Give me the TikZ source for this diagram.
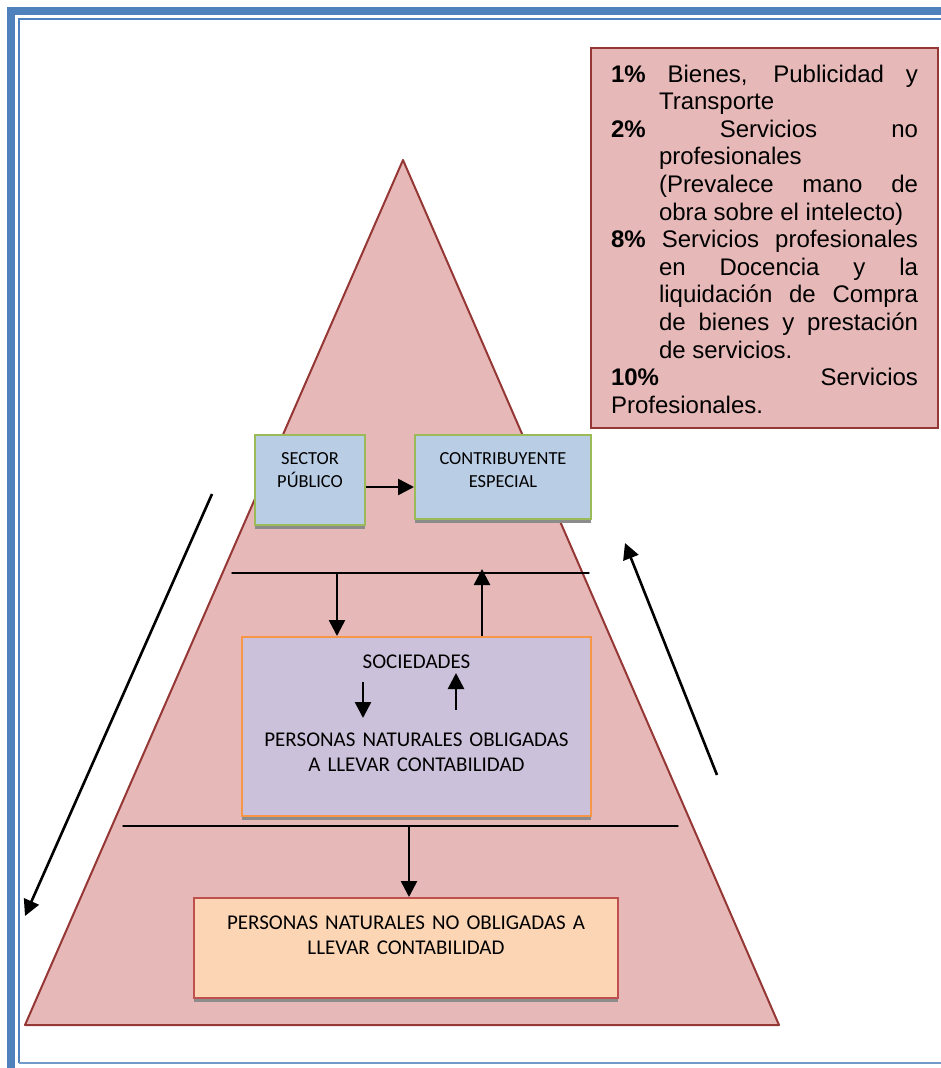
\documentclass[tikz,border=0pt]{standalone}
\usepackage[usenames,dvipsnames]{xcolor}
\usepackage{tkz-euclide}
\usepackage{amsmath}
\usepackage{fontspec}
\usetikzlibrary{arrows.meta,shadows}
\newfontfamily\boxfont{Carlito}
\newfontfamily\notefont{Liberation Sans}
\definecolor{pageblue}{HTML}{4F81BD}
\definecolor{pyrfill}{HTML}{E6B9B8}
\definecolor{pyrline}{HTML}{953735}
\definecolor{boxblue}{HTML}{B9CDE5}
\definecolor{boxgreen}{HTML}{9BBB59}
\definecolor{boxlila}{HTML}{CCC1DA}
\definecolor{boxorange}{HTML}{F79646}
\definecolor{boxpeach}{HTML}{FCD5B5}
\definecolor{boxred}{HTML}{C0504D}

\begin{document}
\begin{tikzpicture}[x=1pt,y=-1pt,
  caja/.style={draw,line width=2pt,anchor=north west,inner xsep=4pt,inner ysep=0pt,align=center,
    drop shadow={shadow xshift=0pt,shadow yshift=-4pt,fill=black!45,opacity=1}},
  flecha/.style={line width=2.6pt,-{Triangle[length=16pt,width=16pt]}}]
\useasboundingbox (0,0) rectangle (941,1068);
\draw[pageblue,line width=8pt] (11,1080) -- (11,11) -- (950,11);
\draw[pageblue,line width=2.5pt] (19,1063) -- (19,19) -- (950,19);
\draw[pageblue!80,line width=2pt] (19,1063) -- (950,1063);
\tkzDefPoint(403,160){TT}\tkzDefPoint(25,1025){BL}\tkzDefPoint(779,1025){BR}
\tkzFillPolygon[color=pyrfill](TT,BL,BR)
\tkzDrawPolygon[color=pyrline,line width=2pt](TT,BL,BR)
\node[draw=pyrline,fill=pyrfill,line width=2pt,anchor=north west,text width=307pt,
  inner xsep=20pt,inner ysep=0pt,text height=34pt,text depth=346pt,align=justify,
  font=\notefont\fontsize{24}{27.6}\selectfont] (tasas) at (590,47)
  {\tolerance=10000\hbadness=10000
   \hangindent=48pt\hangafter=1 \textbf{1\%} Bienes, Publicidad y\linebreak Transporte\par
   \hangindent=48pt\hangafter=1 \textbf{2\%} Servicios no\linebreak profesionales\linebreak
   (Prevalece mano de\linebreak obra sobre el intelecto)\par
   \hangindent=48pt\hangafter=1 \textbf{8\%} Servicios profesionales\linebreak en Docencia y la\linebreak
   liquidación de Compra\linebreak de bienes y prestación\linebreak de servicios.\par
   \textbf{10\%} Servicios\linebreak Profesionales.};
\node[caja,draw=boxgreen,fill=boxblue,text width=102pt,text height=29pt,text depth=61pt,
  font=\boxfont\fontsize{18.4}{23}\selectfont] (sector) at (254,434) {SECTOR\\PÚBLICO};
\node[caja,draw=boxgreen,fill=boxblue,text width=168pt,text height=29pt,text depth=55pt,
  font=\boxfont\fontsize{18.4}{23}\selectfont] (contrib) at (414,434) {CONTRIBUYENTE\\ESPECIAL};
\node[caja,draw=boxorange,fill=boxlila,text width=341pt,text height=31pt,text depth=148pt,
  font=\boxfont\fontsize{21}{25}\selectfont] (soc) at (241,636)
  {SOCIEDADES\\[53pt]PERSONAS NATURALES OBLIGADAS\\A LLEVAR CONTABILIDAD};
\node[caja,draw=boxred,fill=boxpeach,text width=416pt,text height=31pt,text depth=69pt,
  font=\boxfont\fontsize{21}{25}\selectfont] (noobl) at (193,897)
  {PERSONAS NATURALES NO OBLIGADAS A\\LLEVAR CONTABILIDAD};
\tkzDefPoint(232,573){L1a}\tkzDefPoint(589,573){L1b}
\tkzDefPoint(123,826){L2a}\tkzDefPoint(678,826){L2b}
\tkzDrawSegments[color=black,line width=1.4pt](L1a,L1b L2a,L2b)
\tkzDefPoint(337,573){D1}\tkzDefPoint(482,569){U1}\tkzDefPoint(409,826){D2}
\tkzDefPoint(363,682){SA}\tkzDefPoint(363,718){SB}
\tkzDefPoint(456,710){SC}\tkzDefPoint(456,673){SD}
\tkzDefPoint(212,494){LA}\tkzDefPoint(25,916){LB}
\tkzDefPoint(717,775){RA}\tkzDefPoint(625,543){RB}
\draw[flecha] ([yshift=-7pt]sector.east) -- ([yshift=-7pt]sector.east -| contrib.west);
\draw[flecha] (D1) -- (D1 |- soc.north);
\draw[flecha] (U1 |- soc.north) -- (U1);
\draw[flecha] (SA) -- (SB);
\draw[flecha] (SC) -- (SD);
\draw[flecha] (D2) -- (D2 |- noobl.north);
\draw[flecha] (LA) -- (LB);
\draw[flecha] (RA) -- (RB);
\end{tikzpicture}
\end{document}
